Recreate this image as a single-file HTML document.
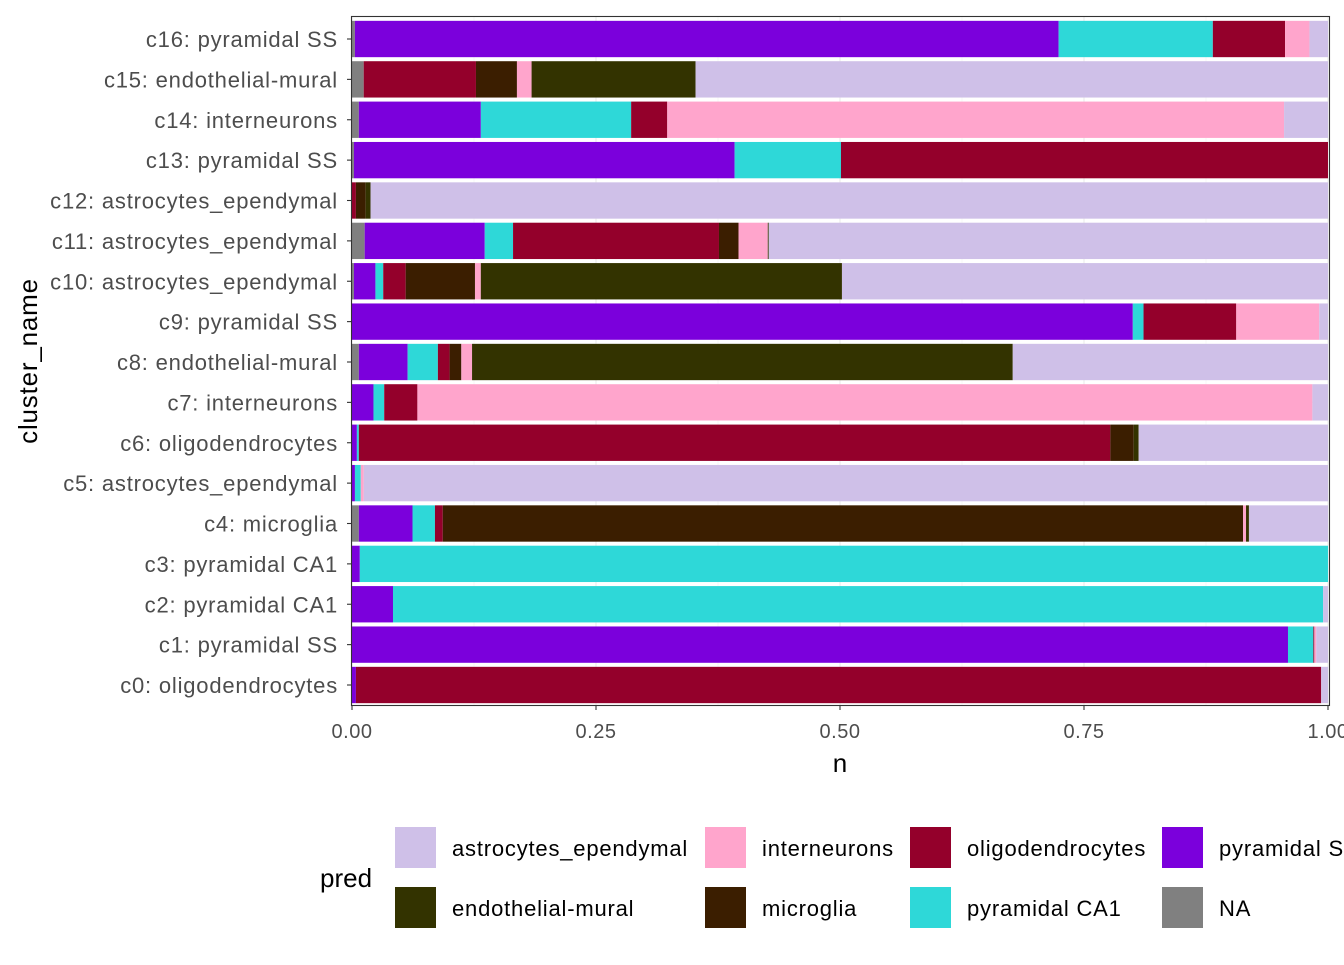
<!DOCTYPE html>
<html><head><meta charset="utf-8"><style>
body{margin:0;background:#fff;width:1344px;height:960px;overflow:hidden;font-family:"Liberation Sans",sans-serif}
</style></head><body>
<svg id="c" width="1344" height="960" xmlns="http://www.w3.org/2000/svg" font-family="Liberation Sans, sans-serif"></svg>
<script>
const categories=["c0: oligodendrocytes","c1: pyramidal SS","c2: pyramidal CA1","c3: pyramidal CA1","c4: microglia","c5: astrocytes_ependymal","c6: oligodendrocytes","c7: interneurons","c8: endothelial-mural","c9: pyramidal SS","c10: astrocytes_ependymal","c11: astrocytes_ependymal","c12: astrocytes_ependymal","c13: pyramidal SS","c14: interneurons","c15: endothelial-mural","c16: pyramidal SS"];
const seriesNames=["NA","pyramidal SS","pyramidal CA1","oligodendrocytes","microglia","interneurons","endothelial-mural","astrocytes_ependymal"];
const colors=["#808080","#7B00DC","#2ED8D8","#94002B","#3B1E00","#FFA5CC","#333300","#CFC0E8"];
const vNA=[0,0,0,0,0.007,0,0,0,0.007,0,0.002,0.013,0,0.002,0.007,0.012,0.003];
const vSS=[0.004,0.959,0.042,0.008,0.055,0.003,0.005,0.022,0.05,0.8,0.022,0.123,0,0.39,0.125,0,0.721];
const vCA1=[0,0.026,0.953,0.992,0.023,0.006,0.002,0.011,0.031,0.011,0.008,0.029,0,0.109,0.154,0,0.158];
const vOligo=[0.989,0.001,0,0,0.008,0,0.77,0.034,0.012,0.095,0.023,0.211,0.004,0.499,0.037,0.115,0.074];
const vMicro=[0,0,0,0,0.82,0,0.024,0,0.012,0,0.071,0.02,0.01,0,0,0.042,0];
const vInter=[0,0.002,0,0,0.003,0.003,0,0.917,0.011,0.085,0.006,0.03,0,0,0.632,0.015,0.025];
const vEndo=[0,0,0,0,0.003,0,0.005,0,0.554,0,0.37,0.001,0.005,0,0,0.168,0];
const vAstro=[0.007,0.012,0.005,0,0.081,0.988,0.194,0.016,0.323,0.009,0.498,0.573,0.981,0,0.045,0.648,0.019];
const series=[vNA,vSS,vCA1,vOligo,vMicro,vInter,vEndo,vAstro];
const xTicks=[0,0.25,0.5,0.75,1];
const xTickLabels=["0.00","0.25","0.50","0.75","1.00"];
const NS="http://www.w3.org/2000/svg";
const svg=document.getElementById('c');
const L=352,R=1328,T=16,B=706;
const n=categories.length, step=40.375;
const xs=v=>L+v*(R-L);
const ys=i=>685-step*i;
function mk(t,a,p){const e=document.createElementNS(NS,t);for(const k in a)e.setAttribute(k,a[k]);(p||svg).appendChild(e);return e;}
mk('rect',{x:351,y:T,width:978,height:B-T,fill:'#fff'});
const grid=mk('g',{});


[0.125,0.375,0.625,0.875].forEach(v=>mk('line',{x1:xs(v),x2:xs(v),y1:T,y2:B,stroke:'#f2f2f2','stroke-width':0.6},grid));
xTicks.forEach(v=>mk('line',{x1:xs(v),x2:xs(v),y1:T,y2:B,stroke:'#ebebeb','stroke-width':1.1},grid));
categories.forEach((c,i)=>mk('line',{x1:L,x2:R,y1:ys(i),y2:ys(i),stroke:'#ebebeb','stroke-width':1.1},grid));
const bars=mk('g',{});


const bh=step*0.9;
categories.forEach((c,i)=>{let acc=0;series.forEach((s,k)=>{const v=s[i];if(v>0){const r=mk('rect',{x:xs(acc),y:ys(i)-bh/2,width:xs(acc+v)-xs(acc),height:bh,fill:colors[k]},bars);

}acc+=v;});});
mk('rect',{x:351.5,y:T+0.5,width:978,height:B-T-1,fill:'none',stroke:'#333','stroke-width':1.1});
const ya=mk('g',{});


categories.forEach((c,i)=>{mk('line',{x1:347,x2:351,y1:ys(i),y2:ys(i),stroke:'#333','stroke-width':1.1},ya);
const t=mk('text',{x:338,y:ys(i)+8,'text-anchor':'end','font-size':'22px','letter-spacing':'0.8px',fill:'#4d4d4d'},ya);t.textContent=c;

});
const xa=mk('g',{});


xTicks.forEach((v,i)=>{mk('line',{x1:xs(v),x2:xs(v),y1:B,y2:B+4,stroke:'#333','stroke-width':1.1},xa);
const t=mk('text',{x:xs(v),y:738,'text-anchor':'middle','font-size':'20px','letter-spacing':'0.5px',fill:'#4d4d4d'},xa);t.textContent=xTickLabels[i];

});
let t=mk('text',{x:840,y:772,'text-anchor':'middle','font-size':'26px',fill:'#000'});t.textContent='n';


t=mk('text',{x:0,y:0,'text-anchor':'middle','font-size':'26px','letter-spacing':'0.8px',fill:'#000',transform:'translate(37,361) rotate(-90)'});t.textContent='cluster_name';


const lg=mk('g',{});


t=mk('text',{x:320,y:887,'font-size':'26px',fill:'#000'},lg);t.textContent='pred';


const legOrder=[7,5,3,1,6,4,2,0];
const kx=[395,705,910,1162];
legOrder.forEach((k,j)=>{const col=j%4,row=Math.floor(j/4);const y=827+row*60;
const r=mk('rect',{x:kx[col],y:y,width:41,height:41,fill:colors[k]},lg);


const tt=mk('text',{x:kx[col]+57,y:y+29,'font-size':'22px','letter-spacing':'0.8px',fill:'#000'},lg);tt.textContent=seriesNames[k];

});
</script>
</body></html>
